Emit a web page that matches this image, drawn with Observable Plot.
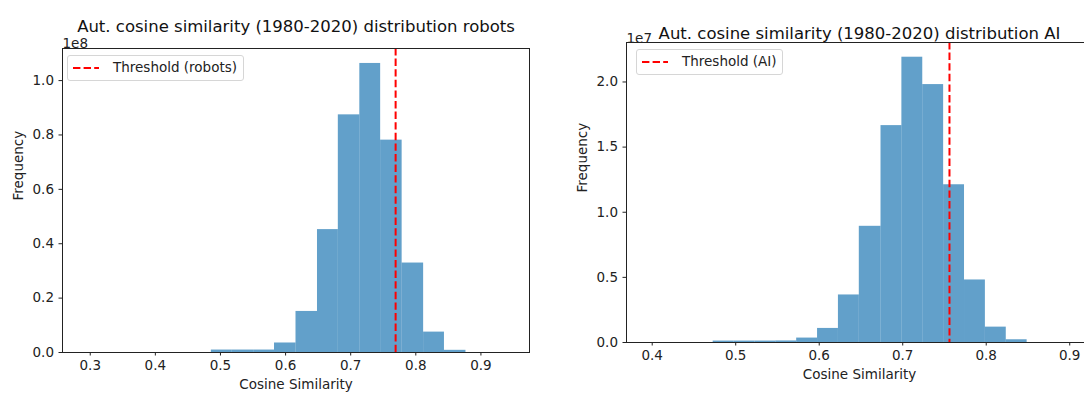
<!DOCTYPE html>
<html>
<head>
<meta charset="utf-8">
<script src="https://cdn.jsdelivr.net/npm/d3@7"></script>
<script src="https://cdn.jsdelivr.net/npm/@observablehq/plot@0.6"></script>
<style>
  html, body { margin: 0; padding: 0; background: #fff; }
  #wrap { position: relative; width: 1084px; height: 399px; overflow: hidden; font-family: "DejaVu Sans", sans-serif; }
  .panel { position: absolute; top: 0; }
  .legend { position: absolute; border: 1px solid #d6d6d6; border-radius: 3px; background: rgba(255,255,255,0.8);
            font-size: 13.5px; color: #222; box-sizing: border-box; }
  .legend svg { position: absolute; left: 0; top: 0; }
  .legend span { position: absolute; white-space: nowrap; }
</style>
</head>
<body>
<div id="wrap"></div>
<script>
// ---------- Data ----------
// Left panel: robots
const robotsTitle = "Aut. cosine similarity (1980-2020) distribution robots";
const robotsEdges = [0.290, 0.323, 0.355, 0.388, 0.420, 0.453, 0.486, 0.518, 0.551, 0.583, 0.616,
                     0.649, 0.681, 0.714, 0.746, 0.779, 0.812, 0.844, 0.877, 0.909, 0.942];
const robotsCounts = [0, 0, 0, 0, 0, 0, 0.9e6, 0.9e6, 0.9e6, 3.5e6, 15.1e6,
                      45.2e6, 87.4e6, 106.3e6, 78.1e6, 32.9e6, 7.5e6, 0.8e6, 0, 0];
const robotsThreshold = 0.769;
const robotsXTicks = [0.3, 0.4, 0.5, 0.6, 0.7, 0.8, 0.9];
const robotsYTicks = [0, 0.2e8, 0.4e8, 0.6e8, 0.8e8, 1.0e8];
const robotsLegend = "Threshold (robots)";

// Right panel: AI
const aiTitle = "Aut. cosine similarity (1980-2020) distribution AI";
const aiEdges = [0.398, 0.423, 0.448, 0.473, 0.498, 0.523, 0.548, 0.573, 0.598, 0.623, 0.648,
                 0.674, 0.699, 0.724, 0.749, 0.774, 0.799, 0.824, 0.849, 0.874, 0.899];
const aiCounts = [0, 0, 0, 0.11e6, 0.11e6, 0.11e6, 0.12e6, 0.34e6, 1.08e6, 3.65e6, 8.92e6,
                  16.65e6, 21.9e6, 19.8e6, 12.11e6, 4.8e6, 1.18e6, 0.21e6, 0, 0];
const aiThreshold = 0.756;
const aiXTicks = [0.4, 0.5, 0.6, 0.7, 0.8, 0.9];
const aiYTicks = [0, 0.5e7, 1.0e7, 1.5e7, 2.0e7];
const aiLegend = "Threshold (AI)";

const xLabel = "Cosine Similarity";
const yLabel = "Frequency";

// ---------- Build ----------
const barColor = "#1f77b4";
const axisColor = "#222";
const baseFont = 13.5;
const titleFont = 16.5;

function bins(edges, counts) {
  return counts.map((c, i) => ({x1: edges[i], x2: edges[i + 1], count: c}));
}

function panel(opts) {
  const data = bins(opts.edges, opts.counts);
  const marks = [
    Plot.rectY(data, {x1: "x1", x2: "x2", y: "count", fill: barColor, fillOpacity: 0.7}),
    Plot.ruleX([opts.threshold], {stroke: "red", strokeWidth: 2, strokeDasharray: "7.4,3.2"}),
    Plot.text([opts.title], {frameAnchor: "top", dy: opts.titleDy, dx: opts.titleDx, fontSize: titleFont, fill: "#111"}),
    Plot.text([opts.offset], {frameAnchor: "top-left", textAnchor: "start", dy: opts.offsetDy, dx: 0, fontSize: baseFont, fill: axisColor}),
    Plot.text([xLabel], {frameAnchor: "bottom", dy: 36, dx: opts.titleDx, fontSize: baseFont, fill: axisColor}),
    Plot.text([yLabel], {frameAnchor: "left", dx: -44, rotate: -90, fontSize: baseFont, fill: axisColor})
  ];
  if (opts.fullFrame) {
    marks.push(Plot.frame({stroke: axisColor, strokeWidth: 1}));
  } else {
    marks.push(Plot.ruleX([opts.xDomain[0]], {stroke: axisColor, strokeWidth: 1}));
    marks.push(Plot.ruleY([0], {stroke: axisColor, strokeWidth: 1}));
    marks.push(Plot.ruleY([opts.yDomain[1]], {stroke: axisColor, strokeWidth: 1}));
  }
  return Plot.plot({
    width: opts.width, height: 399,
    marginLeft: opts.marginLeft, marginRight: opts.marginRight,
    marginTop: opts.marginTop, marginBottom: opts.marginBottom,
    style: {fontFamily: "DejaVu Sans", fontSize: baseFont + "px", color: axisColor, background: "transparent", overflow: "visible"},
    x: {domain: opts.xDomain, ticks: opts.xTicks, tickFormat: d => d.toFixed(1), tickSize: 3.5, tickPadding: 4.5, label: null},
    y: {domain: opts.yDomain, ticks: opts.yTicks, tickFormat: d => (d / opts.scale).toFixed(1), tickSize: 3.5, tickPadding: 5, label: null},
    marks
  });
}

function legend(left, top, w, h, label) {
  const d = document.createElement("div");
  d.className = "legend";
  Object.assign(d.style, {left: left + "px", top: top + "px", width: w + "px", height: h + "px"});
  const ns = "http://www.w3.org/2000/svg";
  const s = document.createElementNS(ns, "svg");
  s.setAttribute("width", 40); s.setAttribute("height", h);
  const l = document.createElementNS(ns, "line");
  l.setAttribute("x1", 5); l.setAttribute("x2", 31);
  l.setAttribute("y1", h / 2 - 1); l.setAttribute("y2", h / 2 - 1);
  l.setAttribute("stroke", "red"); l.setAttribute("stroke-width", 2);
  l.setAttribute("stroke-dasharray", "7.4,3.2");
  s.appendChild(l);
  d.appendChild(s);
  const t = document.createElement("span");
  t.textContent = label;
  t.style.left = "45px";
  t.style.top = (h / 2 - 10) + "px";
  d.appendChild(t);
  return d;
}

const wrap = document.getElementById("wrap");

const p1 = panel({
  edges: robotsEdges, counts: robotsCounts, threshold: robotsThreshold,
  title: robotsTitle, offset: "1e8", scale: 1e8,
  xTicks: robotsXTicks, yTicks: robotsYTicks,
  xDomain: [0.2574, 0.9746], yDomain: [0, 1.118e8],
  width: 545, marginLeft: 62, marginRight: 16, marginTop: 48, marginBottom: 47,
  titleDy: -28, titleDx: 0, offsetDy: -10, fullFrame: true
});
p1.classList.add("panel");
p1.style.left = "0px";
wrap.appendChild(p1);

const p2 = panel({
  edges: aiEdges, counts: aiCounts, threshold: aiThreshold,
  title: aiTitle, offset: "1e7", scale: 1e7,
  xTicks: aiXTicks, yTicks: aiYTicks,
  xDomain: [0.3692, 0.9177], yDomain: [0, 2.303e7],
  width: 539, marginLeft: 81, marginRight: 0, marginTop: 42, marginBottom: 57,
  titleDy: -15, titleDx: 4, offsetDy: -9, fullFrame: false
});
p2.classList.add("panel");
p2.style.left = "545px";
wrap.appendChild(p2);

wrap.appendChild(legend(67, 55, 177, 26, robotsLegend));
wrap.appendChild(legend(636, 49, 147, 26, aiLegend));
</script>
</body>
</html>
